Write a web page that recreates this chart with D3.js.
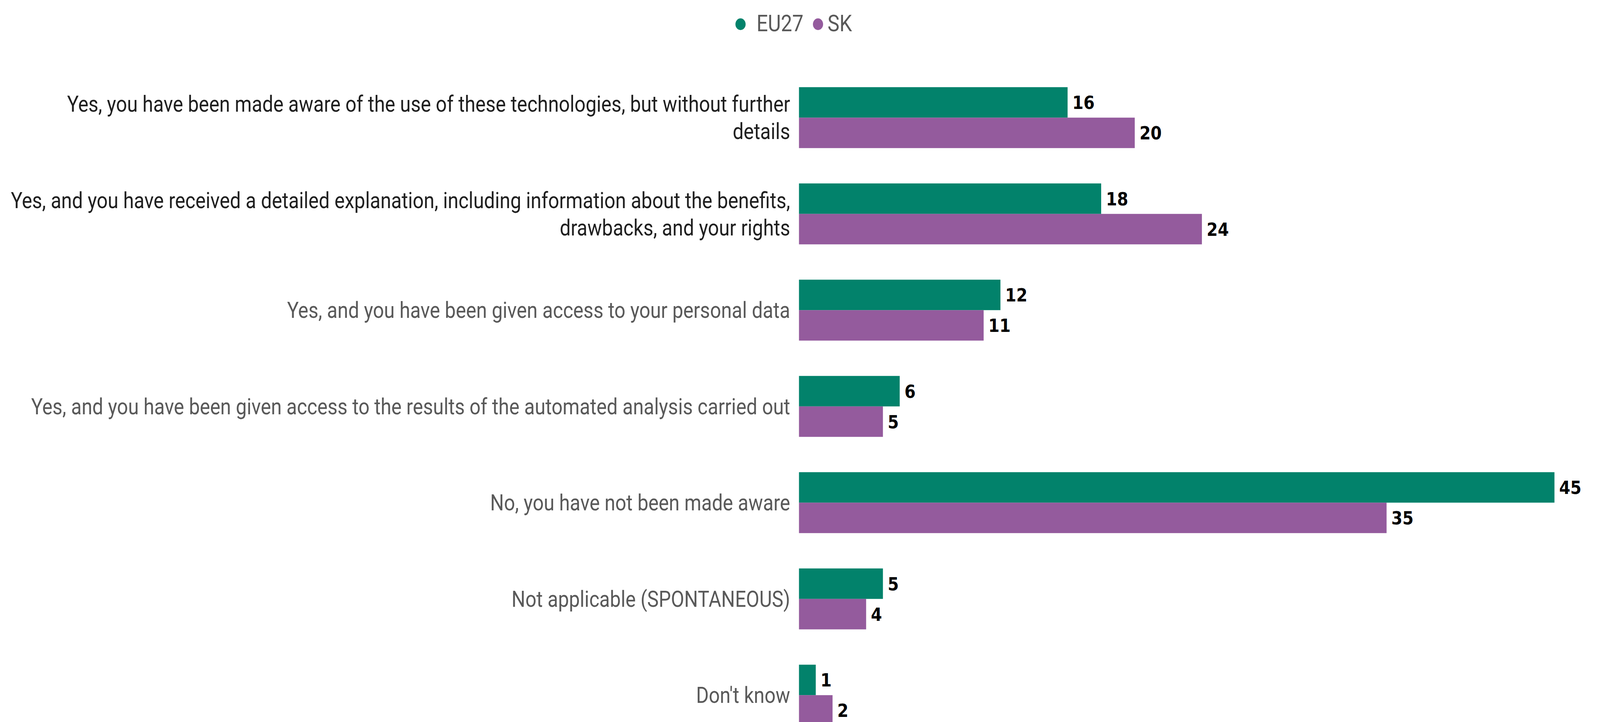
<!DOCTYPE html>
<html>
<head>
<meta charset="utf-8">
<script src="https://cdn.jsdelivr.net/npm/d3@7"></script>
<style>
  html, body { margin: 0; padding: 0; background: #fff; overflow: hidden; }
  svg { display: block; }
  text { font-family: Roboto, "Noto Sans", sans-serif; }
  text.val { font-family: "DejaVu Sans", Verdana, sans-serif; }
</style>
</head>
<body>
<div id="chart"></div>
<script>
// answers (line breaks as in the original)
var categories = [
    "Yes, you have been made aware of the use of these technologies, but without further\ndetails",
    "Yes, and you have received a detailed explanation, including information about the benefits,\ndrawbacks, and your rights",
    "Yes, and you have been given access to your personal data",
    "Yes, and you have been given access to the results of the automated analysis carried out",
    "No, you have not been made aware",
    "Not applicable (SPONTANEOUS)",
    "Don't know"
];
var seriesNames = ["EU27", "SK"];
var eu27Values = [16, 18, 12, 6, 45, 5, 1];
var skValues = [20, 24, 11, 5, 35, 4, 2];

(function() {
    var width = 4708, height = 1849;
    var colors = { "EU27": "#02826b", "SK": "#945b9d" };

    // drawn in a 4708x1849 frame, stretched to whatever the window really is
    var svg = d3.select("#chart").append("svg")
        .attr("width", window.innerWidth || width)
        .attr("height", window.innerHeight || height)
        .attr("viewBox", "0 0 " + width + " " + height)
        .attr("preserveAspectRatio", "none");

    var data = categories.map(function(c, i) {
        return { cat: c, values: [
            { key: "EU27", value: eu27Values[i] },
            { key: "SK", value: skValues[i] }
        ] };
    });

    var x = d3.scaleLinear()
        .domain([0, 45])
        .range([2351, 4574]);

    // bands: step ~246.5, bar pair 156 high
    var y = d3.scaleBand()
        .domain(categories)
        .range([178, 178 + 7 * 246.5])
        .paddingInner(0.367)
        .paddingOuter(0.1835);

    var ySub = d3.scaleBand()
        .domain(seriesNames)
        .range([0, y.bandwidth()]);

    // legend
    var legend = svg.append("g").attr("class", "legend");
    var legendItems = [
        { key: "EU27", cx: 2179, tx: 2226 },
        { key: "SK", cx: 2407, tx: 2435 }
    ];
    legendItems.forEach(function(d) {
        legend.append("circle")
            .attr("cx", d.cx)
            .attr("cy", 62)
            .attr("r", 15)
            .attr("fill", colors[d.key]);
        legend.append("text")
            .attr("x", d.tx)
            .attr("y", 80)
            .attr("font-size", 59)
            .attr("fill", "#595959")
            .text(d.key);
    });

    var groups = svg.selectAll(".group")
        .data(data)
        .enter().append("g")
        .attr("class", "group")
        .attr("transform", d => "translate(0," + y(d.cat) + ")");

    // category labels
    groups.each(function(d) {
        var lines = d.cat.split("\n");
        var g = d3.select(this);
        var lineH = 70;
        var mid = y.bandwidth() / 2;
        var first = mid + 20 - (lines.length - 1) * lineH / 2;
        lines.forEach(function(l, j) {
            g.append("text")
                .attr("x", 2325)
                .attr("y", first + j * lineH)
                .attr("text-anchor", "end")
                .attr("font-size", 57)
                .attr("fill", lines.length > 1 ? "#1f1f1f" : "#595959")
                .text(l);
        });
    });

    // bars
    groups.selectAll("rect")
        .data(d => d.values)
        .enter().append("rect")
        .attr("x", x(0))
        .attr("y", d => ySub(d.key))
        .attr("width", d => x(d.value) - x(0))
        .attr("height", ySub.bandwidth())
        .attr("fill", d => colors[d.key]);

    // value labels
    groups.selectAll(".val")
        .data(d => d.values)
        .enter().append("text")
        .attr("class", "val")
        .attr("x", d => x(d.value) + 14)
        .attr("y", d => ySub(d.key) + ySub.bandwidth() / 2)
        .attr("dy", "0.36em")
        .attr("font-size", 47)
        .attr("font-weight", "bold")
        .attr("fill", "#000")
        .text(d => d.value);
})();
</script>
</body>
</html>
